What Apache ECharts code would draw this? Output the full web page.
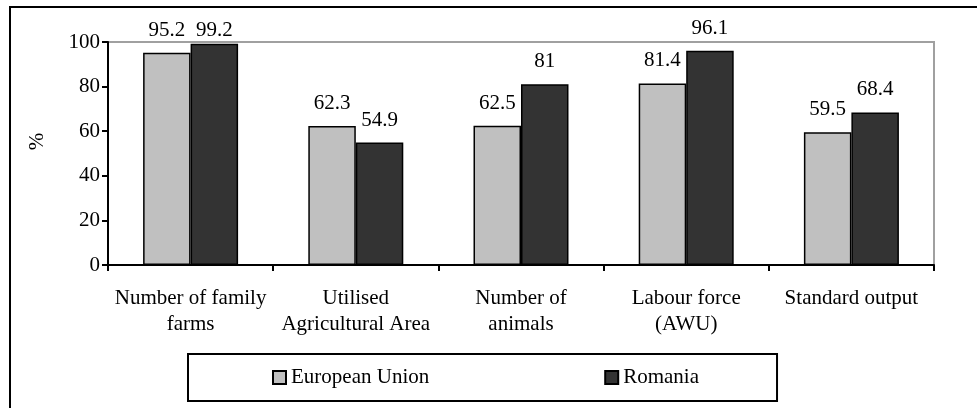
<!DOCTYPE html>
<html>
<head>
<meta charset="utf-8">
<script src="https://cdn.jsdelivr.net/npm/echarts@6/dist/echarts.min.js"></script>
<style>
  html, body { margin: 0; padding: 0; background: #fff; }
  #chart { width: 977px; height: 408px; }
</style>
</head>
<body>
<div id="chart"></div>
<script>
const categories = [
  'Number of family\nfarms',
  'Utilised\nAgricultural Area',
  'Number of\nanimals',
  'Labour force\n(AWU)',
  'Standard output'
];
const euValues = [95.2, 62.3, 62.5, 81.4, 59.5];
const roValues = [99.2, 54.9, 81, 96.1, 68.4];
const seriesNames = ['European Union', 'Romania'];
const yTicks = [0, 20, 40, 60, 80, 100];

const FONT = "'Liberation Serif', 'Times New Roman', serif";
const FS = 21;

function withLabels(values) {
  // labels near the top of the plot are pulled closer to the bar
  return values.map(v => v > 97 ? { value: v, label: { distance: 3 } } : v);
}

const chart = echarts.init(document.getElementById('chart'), null, { renderer: 'canvas' });
chart.setOption({
  animation: false,
  backgroundColor: '#fff',
  textStyle: { fontFamily: FONT, color: '#000' },
  graphic: [{
    type: 'rect',
    silent: true,
    shape: { x: 10, y: 7, width: 1200, height: 700 },
    style: { fill: 'none', stroke: '#000', lineWidth: 2 },
    z: 100
  }],
  grid: {
    left: 108, right: 43, top: 42, bottom: 143,
    show: true, borderColor: '#a0a0a0', borderWidth: 2,
    containLabel: false
  },
  legend: {
    left: 188, top: 354,
    orient: 'horizontal',
    padding: [13, 78, 13, 84],
    itemGap: 175,
    itemWidth: 13, itemHeight: 13,
    icon: 'rect',
    borderColor: '#000', borderWidth: 2,
    textStyle: { fontFamily: FONT, fontSize: FS, color: '#000' },
    data: seriesNames
  },
  xAxis: {
    type: 'category',
    data: categories,
    axisLine: { lineStyle: { color: '#000', width: 2 } },
    axisTick: { show: true, length: 6, lineStyle: { color: '#000', width: 2 } },
    axisLabel: {
      interval: 0, margin: 20,
      fontFamily: FONT, fontSize: FS, color: '#000', lineHeight: 26
    },
    splitLine: { show: false }
  },
  yAxis: {
    type: 'value',
    min: yTicks[0], max: yTicks[yTicks.length - 1], interval: 20,
    name: '%',
    nameLocation: 'middle',
    nameRotate: 90,
    nameGap: 60,
    nameTextStyle: { fontFamily: FONT, fontSize: FS, color: '#000', padding: [0, 0, 0, 24] },
    axisLine: { show: true, lineStyle: { color: '#000', width: 2 } },
    axisTick: { show: true, length: 6, lineStyle: { color: '#000', width: 2 } },
    axisLabel: { margin: 8, fontFamily: FONT, fontSize: FS, color: '#000' },
    splitLine: { show: false }
  },
  series: [
    {
      name: seriesNames[0], type: 'bar',
      data: withLabels(euValues),
      barGap: '0%', barCategoryGap: '42.5%',
      itemStyle: { color: '#c0c0c0', borderColor: '#000', borderWidth: 1.5 },
      label: { show: true, position: 'top', distance: 12, fontFamily: FONT, fontSize: FS, color: '#000' }
    },
    {
      name: seriesNames[1], type: 'bar',
      data: withLabels(roValues),
      barGap: '0%', barCategoryGap: '42.5%',
      itemStyle: { color: '#333333', borderColor: '#000', borderWidth: 1.5 },
      label: { show: true, position: 'top', distance: 12, fontFamily: FONT, fontSize: FS, color: '#000' }
    }
  ]
});
</script>
</body>
</html>
